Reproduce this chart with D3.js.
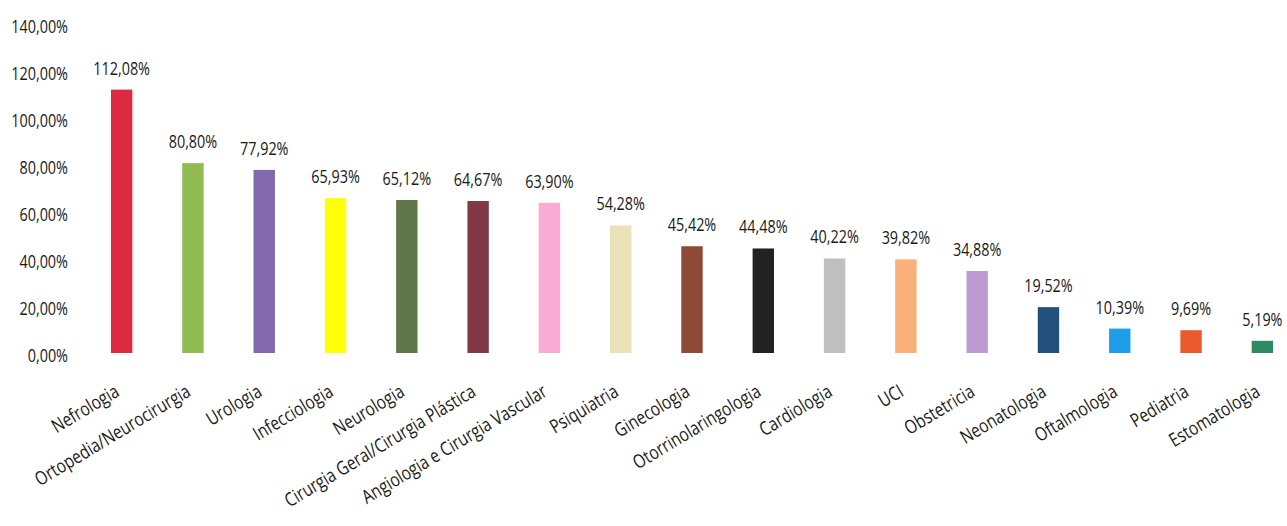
<!DOCTYPE html>
<html>
<head>
<meta charset="utf-8">
<script src="https://cdn.jsdelivr.net/npm/d3@7"></script>
<style>
  body { margin: 0; background: #fff; }
  text { font-family: "Open Sans", sans-serif; fill: #1a1a1a; }
</style>
</head>
<body>
<div id="chart"></div>
<script>
const categories = [
  "Nefrologia", "Ortopedia/Neurocirurgia", "Urologia", "Infecciologia", "Neurologia",
  "Cirurgia Geral/Cirurgia Plástica", "Angiologia e Cirurgia Vascular", "Psiquiatria",
  "Ginecologia", "Otorrinolaringologia", "Cardiologia", "UCI", "Obstetricia",
  "Neonatologia", "Oftalmologia", "Pediatria", "Estomatologia"
];
const values = [1.1208, 0.8080, 0.7792, 0.6593, 0.6512, 0.6467, 0.6390, 0.5428,
  0.4542, 0.4448, 0.4022, 0.3982, 0.3488, 0.1952, 0.1039, 0.0969, 0.0519];
const barColors = ["#dc2a40", "#8fbb50", "#8468ad", "#ffff0a", "#5f7449", "#813945",
  "#fbaad6", "#e9e2b8", "#8e4a38", "#222222", "#bfbfbf", "#f9b07a", "#bc9ad3",
  "#21507c", "#1f9de8", "#ea5a2d", "#2e8a63"];
const yTicks = [0, 0.2, 0.4, 0.6, 0.8, 1.0, 1.2, 1.4];

const width = 1287, height = 526;
const narrow = 0.8; // the original font is a narrow one
const data = categories.map((c, i) => ({ text: c, value: values[i], color: barColors[i] }));

const locale = d3.formatLocale({ decimal: ",", thousands: ".", grouping: [3], currency: ["", "€"] });
const pct = locale.format(".2%");

const svg = d3.select("#chart").append("svg")
  .attr("width", width)
  .attr("height", height);

const x = d3.scaleBand()
  .domain(categories)
  .range([86, 1298])
  .paddingInner(0.7)
  .paddingOuter(0.35);

const y = d3.scaleLinear()
  .domain([0, 1.4])
  .range([353, 24]);

// y axis: labels only
svg.append("g")
  .attr("transform", "translate(68,0)")
  .call(d3.axisLeft(y).tickValues(yTicks).tickFormat(pct).tickSize(0).tickPadding(0))
  .call(g => g.select(".domain").remove())
  .selectAll("text")
  .style("font-size", "18px")
  .attr("transform", `scale(${narrow},1)`)
  .attr("dy", "0.45em");

// bars
svg.selectAll(".bar")
  .data(data)
  .enter()
  .append("rect")
  .attr("class", "bar")
  .attr("x", d => x(d.text))
  .attr("y", d => y(d.value))
  .attr("width", x.bandwidth())
  .attr("height", d => y(0) - y(d.value))
  .attr("fill", d => d.color);

// value labels
svg.selectAll(".val")
  .data(data)
  .enter()
  .append("text")
  .attr("class", "val")
  .attr("transform", d => `translate(${x(d.text) + x.bandwidth() / 2},${y(d.value) - 15}) scale(${narrow},1)`)
  .attr("text-anchor", "middle")
  .style("font-size", "18px")
  .text(d => pct(d.value));

// category labels
svg.selectAll(".cat")
  .data(data)
  .enter()
  .append("text")
  .attr("class", "cat")
  .attr("text-anchor", "end")
  .attr("transform", d => `translate(${x(d.text) + x.bandwidth() / 2 - 1},395) rotate(-31) scale(0.81,1)`)
  .style("font-size", "19px")
  .text(d => d.text);
</script>
</body>
</html>
